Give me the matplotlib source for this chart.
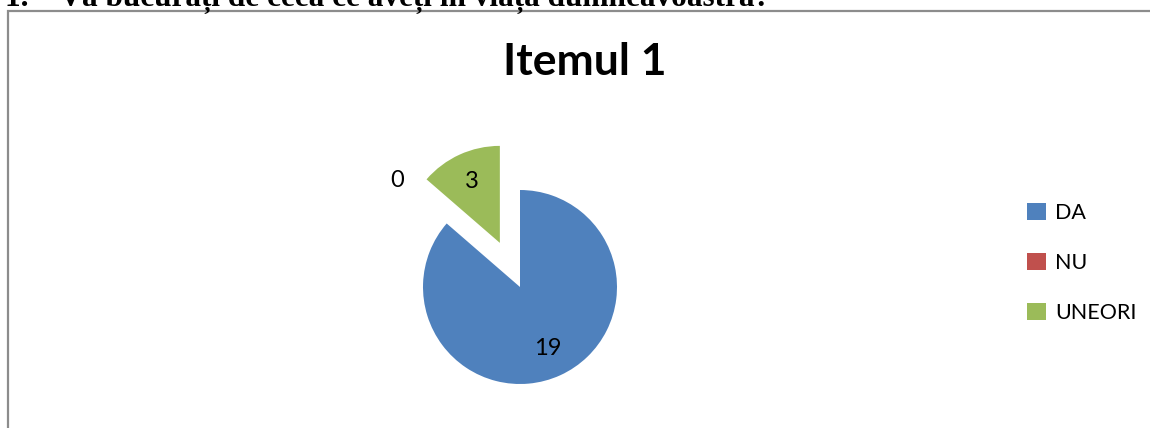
import numpy as np
import matplotlib
matplotlib.use("Agg")
import matplotlib.pyplot as plt
from matplotlib.patches import Rectangle, Patch

# data
categories = ["DA", "NU", "UNEORI"]
values = [19, 0, 3]
colors = ["#4F81BD", "#C0504D", "#9BBB59"]
explode = [0, 0, 0.5]
title = "Itemul 1"
question = "1.    Vă bucurați de ceea ce aveți în viața dumneavoastră?"

W, H = 1150, 428
fig = plt.figure(figsize=(W / 100, H / 100), dpi=100)

# question heading, mostly cut off at the top
fig.text(5 / W, 1 - 6 / H, question, family="Liberation Serif", weight="bold",
         fontsize=22.5, va="baseline", ha="left")

# chart frame (right and bottom edges fall outside the picture)
fig.patches.append(Rectangle((8 / W, -0.2), 1.2, 1.2 - 11 / H,
                             transform=fig.transFigure, fill=False,
                             edgecolor="#8C8C8C", linewidth=1.6))

fig.text(585 / W, 1 - 62 / H, title, family="Lato", weight="bold",
         fontsize=32, ha="center", va="center")

# pie axes: centre (520, 287), radius 97 px
cx, cy, r = 520, 287, 97
ax = fig.add_axes([(cx - 2 * r) / W, (H - cy - 2 * r) / H, 4 * r / W, 4 * r / H])

wedges, _ = ax.pie(values, colors=colors, explode=explode, startangle=90,
                   counterclock=False, radius=1)
ax.set_xlim(-2, 2)
ax.set_ylim(-2, 2)
ax.axis("off")

for w, v in zip(wedges, values):
    ang = np.deg2rad((w.theta1 + w.theta2) / 2)
    d = 0.7 if v > 0 else 1.68
    x0, y0 = w.center
    ax.text(x0 + d * np.cos(ang), y0 + d * np.sin(ang), str(v),
            family="Lato", fontsize=17, ha="center", va="center")

handles = [Patch(facecolor=c, edgecolor="none") for c in colors]
fig.legend(handles, categories, loc="center left",
           bbox_to_anchor=(1008 / W, 1 - 263 / H), frameon=False,
           prop={"family": "Lato", "size": 15.5}, handlelength=0.85,
           handleheight=0.85, handletextpad=0.45, labelspacing=1.4)

fig.savefig("out.png", dpi=100)
